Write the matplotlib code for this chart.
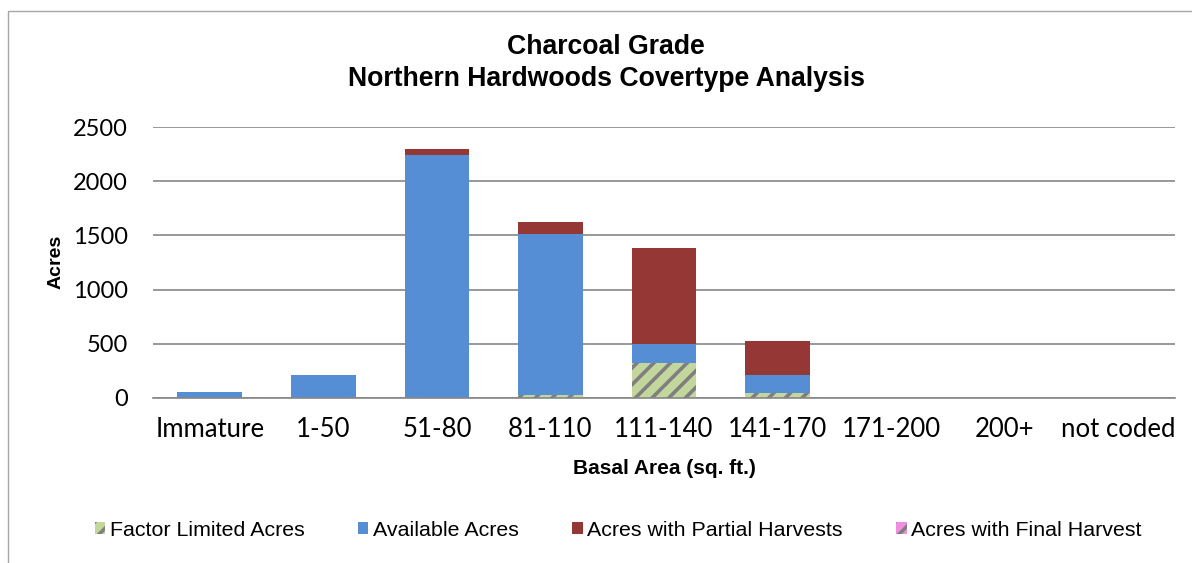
import matplotlib.pyplot as plt
from matplotlib.patches import Patch, Rectangle
import numpy as np

categories = ['Immature', '1-50', '51-80', '81-110', '111-140', '141-170', '171-200', '200+', 'not coded']
factor_limited = [0, 0, 0, 28, 320, 50, 0, 0, 0]
available = [55, 210, 2240, 1485, 175, 160, 0, 0, 0]
partial_harvest = [0, 0, 55, 110, 885, 315, 0, 0, 0]
final_harvest = [0, 0, 0, 0, 0, 0, 0, 0, 0]

plt.rcParams['hatch.linewidth'] = 2.6

W, H = 1192, 563
fig = plt.figure(figsize=(W / 100, H / 100), dpi=100)

# outer chart border
fig.patches.append(Rectangle((8 / W, -0.1), 1.2, (563 - 11) / H + 0.1, transform=fig.transFigure,
                             fill=False, edgecolor='#a6a6a6', linewidth=1.0))

ax = fig.add_axes([153 / W, (H - 398) / H, 1022 / W, 271 / H])

x = np.arange(len(categories))
bw = 0.57
fl = np.array(factor_limited)
av = np.array(available)
ph = np.array(partial_harvest)
fh = np.array(final_harvest)

ax.bar(x, fl, bw, color='#c3d69b', edgecolor='#7f7f7f', hatch='//', linewidth=0)
ax.bar(x, av, bw, bottom=fl, color='#558ed5', linewidth=0)
ax.bar(x, ph, bw, bottom=fl + av, color='#953735', linewidth=0)
ax.bar(x, fh, bw, bottom=fl + av + ph, color='#f28ee0', edgecolor='#7f7f7f', hatch='//', linewidth=0)

ax.set_xlim(-0.5, len(categories) - 0.5)
ax.set_ylim(0, 2500)
ax.set_yticks([0, 500, 1000, 1500, 2000, 2500])
ax.set_xticks(x)
ax.set_xticklabels(categories, fontsize=18.5, family='Lato')
for lbl in ax.get_yticklabels():
    lbl.set_fontsize(17)
    lbl.set_family('Lato')
ax.tick_params(axis='x', length=0, pad=14)
ax.tick_params(axis='y', length=0, pad=18)
ax.grid(axis='y', color='#868686', linewidth=1.2)
ax.set_axisbelow(True)
for s in ['top', 'right', 'left']:
    ax.spines[s].set_visible(False)
ax.spines['bottom'].set_color('#868686')
ax.spines['bottom'].set_linewidth(1.2)

fig.text(606 / W, 1 - 47 / H, 'Charcoal Grade', ha='center', va='center',
         fontsize=19.2, fontweight='bold', family='Liberation Sans')
fig.text(606 / W, 1 - 79 / H, 'Northern Hardwoods Covertype Analysis', ha='center', va='center',
         fontsize=19.2, fontweight='bold', family='Liberation Sans')
fig.text(56 / W, 1 - 262 / H, 'Acres', ha='center', va='center', rotation=90,
         fontsize=14, fontweight='bold', family='Liberation Sans')
fig.text(664 / W, 1 - 468 / H, 'Basal Area (sq. ft.)', ha='center', va='center',
         fontsize=15, fontweight='bold', family='Liberation Sans')

handles = [
    Patch(facecolor='#c3d69b', edgecolor='#7f7f7f', hatch='//', linewidth=0, label='Factor Limited Acres'),
    Patch(facecolor='#558ed5', linewidth=0, label='Available Acres'),
    Patch(facecolor='#953735', linewidth=0, label='Acres with Partial Harvests'),
    Patch(facecolor='#f28ee0', edgecolor='#7f7f7f', hatch='//', linewidth=0, label='Acres with Final Harvest'),
]
fig.legend(handles=handles, loc='center', bbox_to_anchor=(618 / W, 1 - 530 / H), ncol=4,
           frameon=False, handlelength=0.5, handleheight=0.5, handletextpad=0.2,
           columnspacing=2.5, prop={'family': 'Liberation Sans', 'size': 15.4})

fig.savefig('out.png', dpi=100)
